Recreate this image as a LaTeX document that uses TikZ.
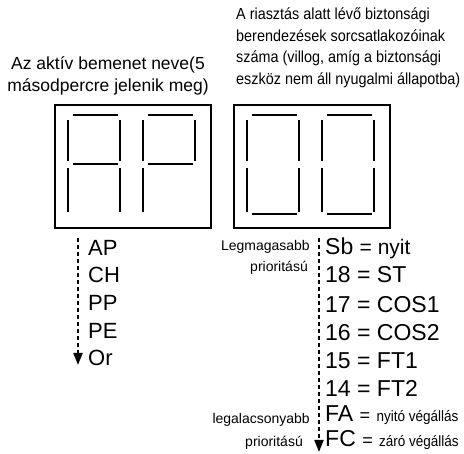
\documentclass[tikz,border=0pt]{standalone}
\usepackage{tikz}
\usepackage{xcolor}
\usepackage{fontspec}
\setmainfont{Liberation Sans}
\newfontfamily\narrowfont[FakeStretch=0.9]{Liberation Sans}
\usetikzlibrary{arrows.meta, positioning}

\begin{document}
\begin{tikzpicture}[x=1pt, y=-1pt,
        seg/.style={line width=2.4pt},
        box/.style={draw, line width=2.4pt, minimum width=156pt, minimum height=123pt, inner sep=0pt},
        lab/.style={anchor=west, inner sep=0pt, font=\fontsize{22}{26}\selectfont},
        note/.style={anchor=east, inner sep=0pt, font=\fontsize{14}{17}\selectfont},
        flow/.style={line width=1.8pt, dash pattern=on 4pt off 3pt, -{Triangle[width=9pt, length=12pt]}}]
        \useasboundingbox (0,0) rectangle (464,454);

        % titles
        \node[align=center, font=\fontsize{17.5}{22}\selectfont] (t1) at (108,76) {Az aktív bemenet neve(5\\másodpercre jelenik meg)};
        \node[anchor=west, align=left, inner sep=0pt, font=\narrowfont\fontsize{16}{21.5}\selectfont] (t2) at (236,48) {A riasztás alatt lévő biztonsági\\berendezések sorcsatlakozóinak\\száma (villog, amíg a biztonsági\\eszköz nem áll nyugalmi állapotba)};

        % displays
        \node[box] (d1) at (133,166.5) {};
        \node[box] (d2) at (312,166.5) {};

        % A
        \begin{scope}[shift={(68,0)}]
            \draw[seg] (5,115) -- (50,115)
                (0,120) -- (0,161) (52,120) -- (52,161)
                (5,164) -- (50,164)
                (0,168) -- (0,212) (52,168) -- (52,212);
        \end{scope}
        % P
        \begin{scope}[shift={(143,0)}]
            \draw[seg] (5,115) -- (50,115)
                (0,120) -- (0,161) (52,120) -- (52,161)
                (5,164) -- (50,164)
                (0,168) -- (0,212);
        \end{scope}
        % 0
        \begin{scope}[shift={(247,0)}]
            \draw[seg] (5,115) -- (50,115)
                (0,120) -- (0,161) (52,120) -- (52,161)
                (0,168) -- (0,212) (52,168) -- (52,212)
                (5,214) -- (50,214);
        \end{scope}
        % 0
        \begin{scope}[shift={(322,0)}]
            \draw[seg] (5,115) -- (50,115)
                (0,120) -- (0,161) (52,120) -- (52,161)
                (0,168) -- (0,212) (52,168) -- (52,212)
                (5,214) -- (50,214);
        \end{scope}

        % inputs
        \node[lab] (ap) at (88,248) {AP};
        \node[lab] (ch) at (88,275) {CH};
        \node[lab] (pp) at (88,303) {PP};
        \node[lab] (pe) at (88,331) {PE};
        \node[lab] (or) at (88,358) {Or};

        \coordinate (a0) at (78,238);
        \coordinate (a1) at (78,365);
        \draw[flow] (a0) to (a1);

        % contacts
        \node[lab] (sb) at (325,248) {\fontsize{23}{26}\selectfont Sb {\fontsize{21}{24}\selectfont = nyit}};
        \node[lab] (st) at (325,275) {\fontsize{23}{26}\selectfont 18 = ST};
        \node[lab] (c1) at (325,305) {\fontsize{23}{26}\selectfont 17 = COS1};
        \node[lab] (c2) at (325,333) {\fontsize{23}{26}\selectfont 16 = COS2};
        \node[lab] (f1) at (325,361) {\fontsize{23}{26}\selectfont 15 = FT1};
        \node[lab] (f2) at (325,388) {\fontsize{23}{26}\selectfont 14 = FT2};
        \node[lab] (fa) at (325,415) {\fontsize{23}{28}\selectfont FA {\fontsize{18}{20}\selectfont =} {\narrowfont\fontsize{15}{17}\selectfont nyitó végállás}};
        \node[lab] (fc) at (325,440) {\fontsize{23}{28}\selectfont FC {\fontsize{18}{20}\selectfont =} {\narrowfont\fontsize{15}{17}\selectfont záró végállás}};

        \node[note] (hi1) at (310,247) {Legmagasabb};
        \node[note] (hi2) at (308,268) {prioritású};
        \node[note] (lo1) at (310,420) {legalacsonyabb};
        \node[note] (lo2) at (303,443) {prioritású};

        \coordinate (b0) at (319,238);
        \coordinate (b1) at (319,452);
        \draw[flow] (b0) to (b1);
\end{tikzpicture}
\end{document}
